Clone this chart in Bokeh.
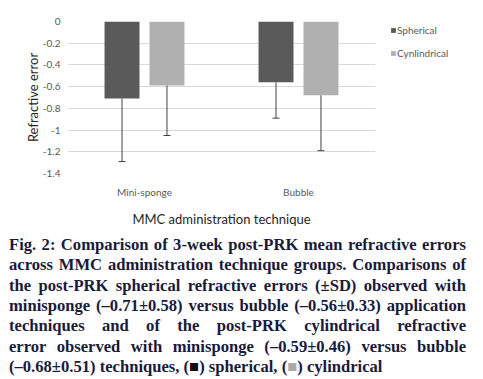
from bokeh.plotting import figure
from bokeh.models import (ColumnDataSource, FactorRange, Range1d, FixedTicker, Whisker,
                          TeeHead, Legend, LegendItem, Div)
from bokeh.transform import dodge
from bokeh.layouts import column, row
from bokeh.embed import file_html
from bokeh.resources import INLINE

categories = ["Mini-sponge", "Bubble"]
spherical = [-0.71, -0.56]
spherical_sd = [0.58, 0.33]
cylindrical = [-0.59, -0.68]
cylindrical_sd = [0.46, 0.51]
series_names = ["Spherical", "Cynlindrical"]
series_colors = ["#5a5a5a", "#b0b0b0"]
y_ticks = [0, -0.2, -0.4, -0.6, -0.8, -1.0, -1.2, -1.4]
y_tick_labels = ["0", "-0.2", "-0.4", "-0.6", "-0.8", "-1", "-1.2", "-1.4"]

caption_lines = [
    "Fig. 2: Comparison of 3-week post-PRK mean refractive errors",
    "across MMC administration technique groups. Comparisons of",
    "the post-PRK spherical refractive errors (\u00b1SD) observed with",
    "minisponge (\u20130.71\u00b10.58) versus bubble (\u20130.56\u00b10.33) application",
    "techniques and of the post-PRK cylindrical refractive",
    "error observed with minisponge (\u20130.59\u00b10.46) versus bubble",
    "(\u20130.68\u00b10.51) techniques, (<span style='color:#111'>\u25a0</span>) spherical, (<span style='color:#aaaaaa'>\u25a0</span>) cylindrical",
]

src = ColumnDataSource(dict(
    cat=categories,
    sph=spherical,
    sph_lo=[m - s for m, s in zip(spherical, spherical_sd)],
    cyl=cylindrical,
    cyl_lo=[m - s for m, s in zip(cylindrical, cylindrical_sd)],
))

FONT = "Lato"
H = 235
p = figure(x_range=FactorRange(*categories), y_range=Range1d(-1.4, 0),
           width=388, height=H, output_backend="svg", toolbar_location=None,
           min_border_left=67, min_border_right=13, min_border_top=21,
           min_border_bottom=62)
p.outline_line_color = None
p.background_fill_color = "white"
p.border_fill_color = "white"

sph_x = dodge("cat", -0.146, range=p.x_range)
cyl_x = dodge("cat", 0.146, range=p.x_range)
r1 = p.vbar(x=sph_x, top="sph", bottom=0, width=0.227, source=src,
            fill_color=series_colors[0], line_color=None)
r2 = p.vbar(x=cyl_x, top="cyl", bottom=0, width=0.227, source=src,
            fill_color=series_colors[1], line_color=None)

for xx, lo, hi in [(sph_x, "sph_lo", "sph"), (cyl_x, "cyl_lo", "cyl")]:
    w = Whisker(base=xx, lower=lo, upper=hi, source=src,
                line_color="#404040", line_width=1,
                lower_head=TeeHead(size=7, line_color="#404040", line_width=1),
                upper_head=None, level="overlay")
    p.add_layout(w)

p.xgrid.grid_line_color = None
p.ygrid.grid_line_color = "#d9d9d9"
p.ygrid.grid_line_width = 1
p.yaxis.ticker = FixedTicker(ticks=y_ticks)
p.yaxis.major_label_overrides = {t: l for t, l in zip(y_ticks, y_tick_labels)}

for ax in (p.xaxis, p.yaxis):
    ax.axis_line_color = None
    ax.major_tick_line_color = None
    ax.minor_tick_line_color = None
    ax.major_label_text_font = FONT
    ax.major_label_text_font_size = "10px"
    ax.major_label_text_color = "#595959"
    ax.axis_label_text_font = FONT
    ax.axis_label_text_font_size = "13px"
    ax.axis_label_text_font_style = "normal"
    ax.axis_label_text_color = "#262626"

p.yaxis.axis_label = "Refractive error"
p.yaxis.major_label_standoff = 1
p.yaxis.axis_label_standoff = -1
p.xaxis.axis_label = "MMC administration technique"
p.xaxis.major_label_standoff = 6
p.xaxis.axis_label_standoff = 10

# legend panel: a small figure that only holds the legend
lf = figure(width=92, height=H, output_backend="svg", toolbar_location=None,
            x_axis_type=None, y_axis_type=None, min_border=0,
            x_range=Range1d(0, 1), y_range=Range1d(0, 1))
lf.outline_line_color = None
lf.xgrid.visible = False
lf.ygrid.visible = False
offscreen = ColumnDataSource(dict(x=[-10.0], top=[0.0]))
lr = [lf.vbar(x="x", top="top", width=0.1, source=offscreen, fill_color=c, line_color=None)
      for c in series_colors]
legend = Legend(items=[LegendItem(label=n, renderers=[r]) for n, r in zip(series_names, lr)],
                location="top_left", border_line_color=None,
                background_fill_alpha=0, padding=0, margin=2,
                glyph_width=6, glyph_height=6, label_height=14, spacing=9,
                label_standoff=1, label_text_font=FONT, label_text_font_size="10px",
                label_text_color="#595959")
lf.add_layout(legend)

html_lines = []
for i, ln in enumerate(caption_lines):
    last = i == len(caption_lines) - 1
    align = "left" if last else "justify"
    html_lines.append(
        f"<div style='text-align:{align};text-align-last:{align};white-space:nowrap'>{ln}</div>")
caption = Div(
    text=("<div style=\"font-family:'Liberation Serif',serif;font-weight:bold;font-size:16.6px;"
          "line-height:20.35px;color:#1a1a3a;width:457px\">" + "".join(html_lines) + "</div>"),
    width=457, margin=(0, 0, 0, 9))

layout = column(row(p, lf, spacing=0), caption, spacing=0)
open("out.html", "w").write(file_html(layout, INLINE))
